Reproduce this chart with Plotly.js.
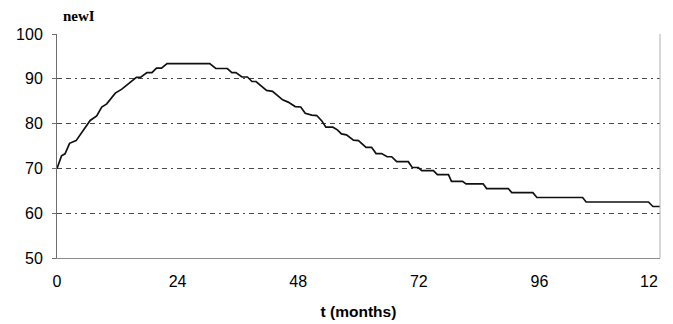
<!DOCTYPE html>
<html>
<head>
<meta charset="utf-8">
<script src="https://cdn.plot.ly/plotly-3.0.1.min.js"></script>
<style>html,body{margin:0;padding:0;background:#fff;}#chart{width:673px;height:324px;}</style>
</head>
<body>
<div id="chart"></div>
<script>
// Traced vertices of the newI curve (t in months, value)
const months = [0,0.9,1.6,2.5,3.8,5.3,6.6,7.9,8.9,9.9,11.6,12.9,14.2,15.8,16.6,17.9,18.9,19.8,20.8,21.9,30.4,31.6,33.9,34.8,35.6,36.8,37.9,38.8,39.6,40.7,41.7,42.9,43.7,44.9,46,47.4,48.5,49.4,50.7,51.7,52.7,53.5,54.9,55.8,56.6,57.6,59,60,61.5,62.6,63.5,64.6,65.7,66.6,67.6,69.9,70.7,71.9,72.6,74.9,75.7,77.9,78.5,80.7,81.4,84.8,85.5,89.8,90.5,94.7,95.5,104.6,105.3,117.7,118.6,120];
const newI = [70,72.8,73.25,75.6,76.2,78.6,80.7,81.7,83.7,84.4,86.8,87.7,88.9,90.3,90.3,91.4,91.4,92.4,92.4,93.4,93.4,92.3,92.3,91.4,91.4,90.4,90.4,89.4,89.4,88.4,87.4,87.2,86.4,85.3,84.8,83.8,83.7,82.3,81.9,81.8,80.6,79.2,79.2,78.6,77.7,77.5,76.3,76.2,74.7,74.7,73.3,73.3,72.6,72.6,71.5,71.5,70.2,70.2,69.5,69.5,68.6,68.6,67.1,67.1,66.55,66.55,65.5,65.5,64.6,64.6,63.5,63.5,62.5,62.5,61.5,61.5];
const xTicks = [0,24,48,72,96];
const xTickText = ["0","24","48","72","96"];
const yTicks = [50,60,70,80,90,100];

const trace = {
  x: months, y: newI, type: 'scatter', mode: 'lines',
  line: {color: '#111', width: 1.7}, hoverinfo: 'skip', showlegend: false
};

const layout = {
  width: 673, height: 324,
  margin: {l: 57, r: 13, t: 34, b: 66},
  paper_bgcolor: '#fff', plot_bgcolor: '#fff',
  font: {family: 'Liberation Sans, Arial, sans-serif', color: '#000', size: 16},
  xaxis: {
    range: [0, 120], tickvals: xTicks, ticktext: xTickText,
    showgrid: false, zeroline: false,
    showline: true, linecolor: '#8c8c8c', linewidth: 1,
    ticks: '', ticklabelstandoff: 9,
    tickfont: {size: 16, family: 'Liberation Sans, Arial, sans-serif'},
    title: {text: '<b>t (months)</b>', font: {size: 15.5, family: 'Liberation Sans, Arial, sans-serif'}, standoff: 16},
    fixedrange: true
  },
  yaxis: {
    range: [50, 100], tickvals: yTicks,
    showgrid: true, gridcolor: '#4a4a4a', gridwidth: 1,
    griddash: '5px,4px,5px,4px,2px,4px',
    zeroline: false,
    showline: true, linecolor: '#6e6e6e', linewidth: 1,
    ticks: 'outside', ticklen: 4, tickcolor: '#6e6e6e',
    ticklabelstandoff: 6,
    tickfont: {size: 16, family: 'Liberation Sans, Arial, sans-serif'},
    fixedrange: true
  },
  shapes: [
    {type: 'line', xref: 'paper', yref: 'paper', x0: 1, x1: 1, y0: 0, y1: 1, line: {color: '#b0b0b0', width: 1}}
  ],
  annotations: [
    {text: '<b>newI</b>', xref: 'paper', yref: 'paper', x: 0.006, y: 1.0, yshift: 18, xanchor: 'left', yanchor: 'middle', showarrow: false,
     font: {family: 'Liberation Serif, Times New Roman, serif', size: 15, color: '#000'}},
    {text: '12', xref: 'paper', yref: 'paper', x: 1.0, y: 0, yshift: -23, xanchor: 'right', yanchor: 'middle', showarrow: false,
     font: {family: 'Liberation Sans, Arial, sans-serif', size: 16, color: '#000'}}
  ]
};

Plotly.newPlot('chart', [trace], layout, {displayModeBar: false, staticPlot: true});
</script>
</body>
</html>
